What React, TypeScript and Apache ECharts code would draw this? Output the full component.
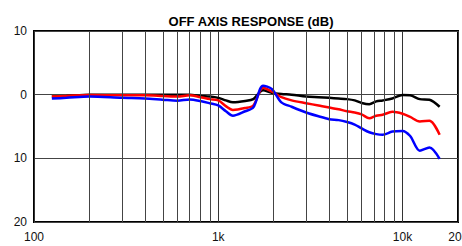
import React, { useEffect, useRef } from "react";
import * as echarts from "echarts";

const freqs = [125, 150, 200, 300, 400, 500, 600, 700, 800, 900, 1000, 1100, 1200, 1400, 1550, 1750, 1950, 2200, 2500, 3000, 3500, 4000, 4500, 5000, 5500, 6000, 6600, 7200, 7800, 8800, 10000, 11000, 12400, 14000, 15900];

const blackDb = [-0.3, -0.2, 0, 0, 0, 0, 0, 0, -0.2, -0.3, -0.5, -0.9, -1.2, -1.0, -0.7, 0.7, 0.3, 0.1, 0, -0.3, -0.4, -0.5, -0.6, -0.7, -0.9, -1.3, -1.5, -1.05, -0.9, -0.6, -0.05, -0.1, -0.7, -0.8, -1.9];
const redDb = [-0.3, -0.2, -0.05, -0.1, -0.1, -0.2, -0.3, -0.1, -0.4, -0.7, -0.9, -1.8, -2.4, -2.1, -1.7, 1.1, 0.5, -0.4, -0.9, -1.35, -1.7, -2.0, -2.3, -2.6, -2.8, -3.1, -3.7, -3.3, -3.15, -2.7, -3.0, -3.5, -4.2, -4.1, -6.3];
const blueDb = [-0.6, -0.5, -0.3, -0.5, -0.6, -0.8, -0.95, -0.75, -1.0, -1.35, -1.7, -2.6, -3.3, -2.6, -2.0, 1.4, 0.9, -1.2, -1.9, -2.8, -3.4, -3.85, -4.0, -4.3, -4.7, -5.3, -5.9, -6.2, -6.3, -5.8, -5.7, -6.5, -8.8, -8.3, -10.1];

const minorGridFreqs = [200, 300, 400, 500, 600, 700, 800, 900, 2000, 3000, 4000, 5000, 6000, 7000, 8000, 9000];
const xLabels: Record<number, string> = { 100: "100", 1000: "1k", 10000: "10k", 20000: "20k" };

const title = "OFF AXIS RESPONSE (dB)";

export default function App() {
  const ref = useRef<HTMLDivElement>(null);
  useEffect(() => {
    if (!ref.current) return;
    const chart = echarts.init(ref.current, null, { renderer: "svg" });
    const font = "'Liberation Sans', Arial, sans-serif";
    const mk = (d: number[]) => freqs.map((f, i) => [f, d[i]]);
    chart.setOption({
      animation: false,
      backgroundColor: "#fff",
      textStyle: { fontFamily: font },
      title: {
        text: title,
        left: 246,
        textAlign: "center",
        top: 10,
        textStyle: { fontFamily: font, fontSize: 13, fontWeight: "bold", color: "#000" },
      },
      grid: {
        left: 34, right: 4, top: 31, bottom: 24,
        show: true, borderColor: "#000", borderWidth: 2, backgroundColor: "transparent",
        containLabel: false,
        outerBoundsMode: "none",
      },
      xAxis: {
        type: "log",
        logBase: 10,
        min: 100,
        max: 20000,
        axisLine: { show: false },
        axisTick: { show: false },
        splitLine: { show: true, lineStyle: { color: "#333", width: 1 } },
        axisLabel: {
          fontFamily: font,
          fontSize: 12,
          color: "#111",
          margin: 9,
          hideOverlap: false,
          formatter: (v: number) => xLabels[Math.round(v)] ?? "",
        },
      },
      yAxis: {
        type: "value",
        min: -20,
        max: 10,
        interval: 10,
        axisLine: { show: false },
        axisTick: { show: false },
        splitLine: { show: true, lineStyle: { color: "#444", width: 1 } },
        axisLabel: {
          fontFamily: font,
          fontSize: 12,
          color: "#111",
          margin: 7,
          formatter: (v: number) => String(Math.abs(v)),
        },
      },
      series: [
        {
          type: "line",
          data: [],
          silent: true,
          markLine: {
            silent: true,
            symbol: "none",
            label: { show: false },
            lineStyle: { color: "#444", width: 1, type: "solid" },
            data: minorGridFreqs.map((f) => ({ xAxis: f })),
          },
        },
        { type: "line", data: mk(blackDb), showSymbol: false, smooth: 0.3, lineStyle: { color: "#000", width: 2.5 }, itemStyle: { color: "#000" } },
        { type: "line", data: mk(redDb), showSymbol: false, smooth: 0.3, lineStyle: { color: "#ff0000", width: 2.5 }, itemStyle: { color: "#ff0000" } },
        { type: "line", data: mk(blueDb), showSymbol: false, smooth: 0.3, lineStyle: { color: "#0000ff", width: 2.5 }, itemStyle: { color: "#0000ff" } },
      ],
    });
    return () => chart.dispose();
  }, []);
  return <div ref={ref} style={{ position: "absolute", left: 0, top: 0, width: 462, height: 246 }} />;
}
